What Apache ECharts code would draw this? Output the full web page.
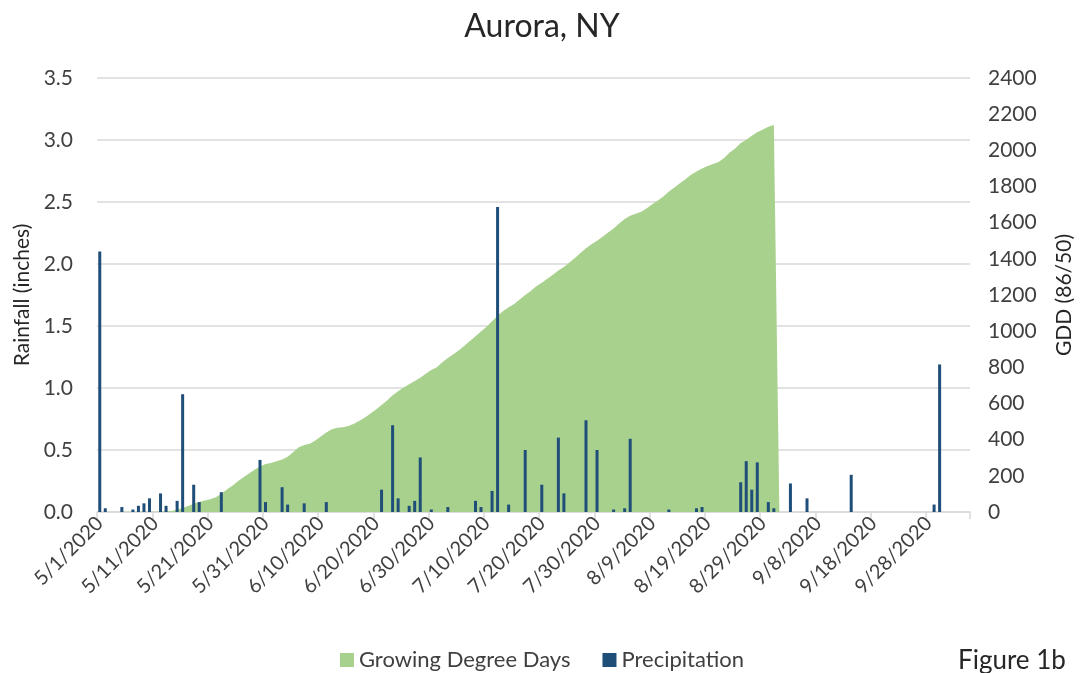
<!DOCTYPE html>
<html>
<head>
<meta charset="utf-8">
<script src="https://cdn.jsdelivr.net/npm/echarts@6/dist/echarts.min.js"></script>
<style>
html,body{margin:0;padding:0;background:#fff;}
#chart{width:1084px;height:673px;}
</style>
</head>
<body>
<div id="chart"></div>
<script>
// Categories: daily dates from 5/1/2020 to 10/5/2020
const monthStarts = [[5, 31], [6, 30], [7, 31], [8, 31], [9, 30], [10, 5]];
const dates = [];
monthStarts.forEach(function (m) { for (let d = 1; d <= m[1]; d++) dates.push(m[0] + '/' + d + '/2020'); });

// Daily precipitation (inches), index 0 = 5/1/2020
const precipitation = [
  2.10,0.03,0,0,0.04,0,0.02,0.05,0.07,0.11,
  0,0.15,0.05,0,0.09,0.95,0,0.22,0.08,0,
  0,0,0.16,0,0,0,0,0,0,0.42,
  0.08,0,0,0.20,0.06,0,0,0.07,0,0,
  0,0.08,0,0,0,0,0,0,0,0,
  0,0.18,0,0.70,0.11,0,0.05,0.09,0.44,0,
  0.02,0,0,0.04,0,0,0,0,0.09,0.04,
  0,0.17,2.46,0,0.06,0,0,0.50,0,0,
  0.22,0,0,0.60,0.15,0,0,0,0.74,0,
  0.50,0,0,0.02,0,0.03,0.59,0,0,0,
  0,0,0,0.02,0,0,0,0,0.03,0.04,
  0,0,0,0,0,0,0.24,0.41,0.18,0.40,
  0,0.08,0.03,0,0,0.23,0,0,0.11,0,
  0,0,0,0,0,0,0.30,0,0,0,
  0,0,0,0,0,0,0,0,0,0,
  0,0.06,1.19,0,0,0,0,0
];

// Cumulative growing degree days (86/50), index 0 = 5/1/2020, ends 9/1/2020
const gdd = [
  0,0,0,0,1,1,1,2,2,2,
  2,3,4,6,12,22,33,45,55,64,
  71,82,101,125,145,170,192,213,234,252,
  266,271,280,290,305,330,358,370,378,395,
  418,440,458,466,468,475,488,505,522,545,
  567,592,617,645,668,688,707,724,743,765,
  785,800,828,852,872,895,920,945,972,998,
  1025,1055,1085,1112,1132,1150,1175,1200,1222,1248,
  1268,1290,1312,1335,1355,1380,1405,1432,1458,1480,
  1500,1522,1545,1568,1595,1620,1638,1650,1660,1680,
  1702,1722,1745,1772,1795,1818,1840,1865,1883,1900,
  1914,1925,1935,1958,1988,2010,2040,2058,2080,2100,
  2115,2130,2140,0
];

const rainTicks = { min: 0, max: 3.5, interval: 0.5 };
const gddTicks = { min: 0, max: 2400, interval: 200 };

const gddSeries = dates.map(function (d, i) { return i < gdd.length ? gdd[i] : null; });

const FONT = 'Lato';
const TXT = '#404040';
const chart = echarts.init(document.getElementById('chart'), null, { renderer: 'canvas' });
chart.setOption({
  animation: false,
  backgroundColor: '#ffffff',
  textStyle: { fontFamily: FONT },
  title: {
    text: 'Aurora, NY', left: 'center', top: 6,
    textStyle: { fontFamily: FONT, fontSize: 32, fontWeight: 'normal', color: '#262626' }
  },
  legend: {
    bottom: -3, left: 'center', itemWidth: 14, itemHeight: 14, itemGap: 32,
    icon: 'rect',
    textStyle: { fontFamily: FONT, fontSize: 22, color: TXT },
    data: ['Growing Degree Days', 'Precipitation']
  },
  graphic: [{
    type: 'text', left: 958, top: 648,
    style: { text: 'Figure 1b', fontFamily: FONT, fontSize: 26, fill: '#262626' }
  }],
  grid: { left: 97, right: 114, top: 78, bottom: 161, containLabel: false },
  xAxis: {
    type: 'category', data: dates, boundaryGap: true,
    axisLine: { lineStyle: { color: '#d9d9d9', width: 1.5 } },
    axisTick: { show: true, interval: 9, length: 7, lineStyle: { color: '#d9d9d9', width: 1.5 } },
    axisLabel: { interval: 9, rotate: 45, margin: 8, fontFamily: FONT, fontSize: 20, color: TXT }
  },
  yAxis: [{
    type: 'value', min: rainTicks.min, max: rainTicks.max, interval: rainTicks.interval,
    name: 'Rainfall (inches)', nameLocation: 'middle', nameRotate: 90, nameGap: 60,
    nameTextStyle: { fontFamily: FONT, fontSize: 21, color: '#262626' },
    axisLine: { show: false }, axisTick: { show: false },
    axisLabel: { margin: 24, fontFamily: FONT, fontSize: 21, color: TXT, formatter: function (v) { return v.toFixed(1); } },
    splitLine: { lineStyle: { color: '#d9d9d9', width: 1.5 } }
  }, {
    type: 'value', min: gddTicks.min, max: gddTicks.max, interval: gddTicks.interval, position: 'right',
    name: 'GDD (86/50)', nameLocation: 'middle', nameRotate: 90, nameGap: 84,
    nameTextStyle: { fontFamily: FONT, fontSize: 21, color: '#262626' },
    axisLine: { show: false }, axisTick: { show: false },
    axisLabel: { margin: 18, fontFamily: FONT, fontSize: 21, color: TXT, formatter: function (v) { return String(v); } },
    splitLine: { show: false }
  }],
  series: [{
    name: 'Growing Degree Days', type: 'line', yAxisIndex: 1, data: gddSeries, z: 2,
    showSymbol: false, symbol: 'none', smooth: false, connectNulls: false,
    itemStyle: { color: '#A9D18E' },
    lineStyle: { width: 0, color: '#A9D18E' },
    areaStyle: { color: '#A9D18E', opacity: 1 }
  }, {
    name: 'Precipitation', type: 'bar', yAxisIndex: 0, data: precipitation, z: 5,
    barWidth: 3, itemStyle: { color: '#1F4E79' }
  }]
});
</script>
</body>
</html>
